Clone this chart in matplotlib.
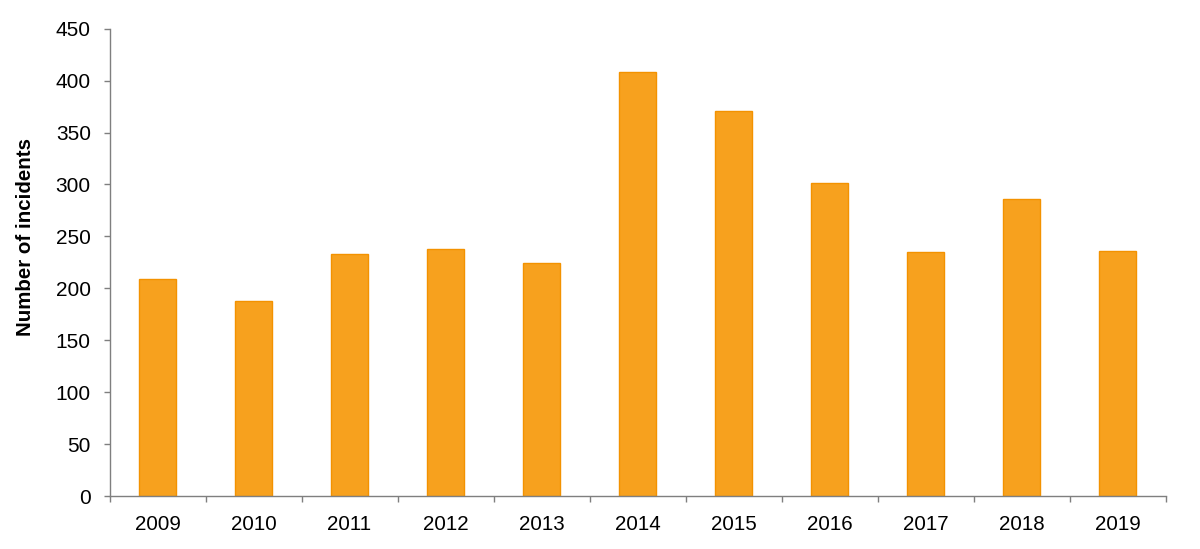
import numpy as np
import matplotlib
matplotlib.use("Agg")
from matplotlib import pyplot as plt

# datos
anios = ["2009", "2010", "2011", "2012", "2013", "2014", "2015", "2016", "2017", "2018", "2019"]
incidentes = [209, 188, 233, 238, 224, 408, 371, 301, 235, 286, 236]

plt.rcParams["font.family"] = ["Liberation Sans", "DejaVu Sans"]

fig = plt.figure(figsize=(12, 5.49), dpi=100)
ax = fig.add_axes([0.0913, 0.0965, 0.8800, 0.8512])

x = np.arange(len(anios))
ax.bar(x, incidentes, width=0.39, color="#F7A11E", edgecolor="#F39200", linewidth=1.0)

ax.set_xlim(-0.5, len(anios) - 0.5)
ax.set_ylim(0, 450)
ax.set_yticks(np.arange(0, 451, 50))
ax.set_xticks(x)
ax.set_xticklabels(anios)
# ticks del eje x entre categorias
ax.set_xticks(np.arange(-0.5, len(anios), 1), minor=True)
ax.tick_params(axis="x", which="major", length=0, pad=14, labelsize=14.8)
ax.tick_params(axis="x", which="minor", length=4.5, direction="out", color="#7f7f7f", width=1)
ax.tick_params(axis="y", length=4.5, direction="out", color="#7f7f7f", width=1, labelsize=15, pad=9)

for s in ["top", "right"]:
    ax.spines[s].set_visible(False)
for s in ["left", "bottom"]:
    ax.spines[s].set_color("#7f7f7f")
    ax.spines[s].set_linewidth(1)

ax.set_ylabel("Number of incidents", fontsize=14.8, fontweight="bold")
ax.yaxis.set_label_coords(-0.071, 0.554)

fig.savefig("out.png", dpi=100)
